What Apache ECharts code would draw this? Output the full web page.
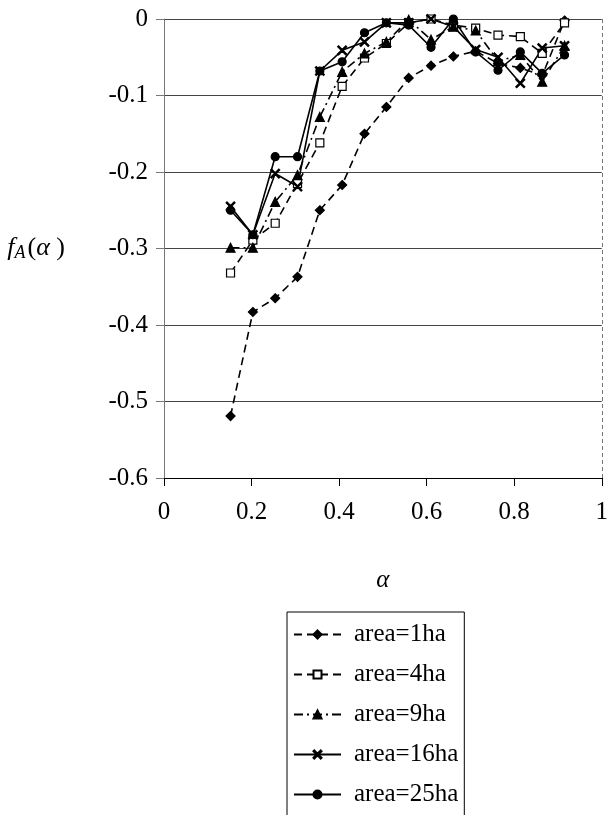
<!DOCTYPE html>
<html>
<head>
<meta charset="utf-8">
<script src="https://cdn.jsdelivr.net/npm/echarts@6/dist/echarts.min.js"></script>
<style>
html, body { margin: 0; padding: 0; background: #fff; }
#chart { width: 611px; height: 815px; }
</style>
</head>
<body>
<div id="chart"></div>
<script>
// alpha values (x)
var alphas = [0.152, 0.203, 0.254, 0.305, 0.356, 0.407, 0.458, 0.508, 0.559, 0.610, 0.661, 0.712, 0.763, 0.814, 0.864, 0.915];

// f_A(alpha) for each area
var area1 = [-0.519, -0.383, -0.365, -0.337, -0.250, -0.217, -0.150, -0.115, -0.077, -0.061, -0.049, -0.042, -0.058, -0.064, -0.074, -0.002];
var area4 = [-0.332, -0.289, -0.267, -0.215, -0.162, -0.088, -0.051, -0.032, -0.005, 0, -0.008, -0.012, -0.021, -0.023, -0.045, -0.005];
var area9 = [-0.299, -0.299, -0.239, -0.204, -0.128, -0.069, -0.045, -0.030, -0.001, -0.027, -0.010, -0.015, -0.055, -0.047, -0.082, -0.035];
var area16 = [-0.245, -0.282, -0.202, -0.219, -0.068, -0.041, -0.030, -0.005, -0.005, 0, -0.010, -0.040, -0.050, -0.084, -0.038, -0.035];
var area25 = [-0.250, -0.282, -0.180, -0.180, -0.068, -0.056, -0.018, -0.005, -0.008, -0.037, 0, -0.043, -0.067, -0.043, -0.071, -0.047];

var seriesNames = ['area=1ha', 'area=4ha', 'area=9ha', 'area=16ha', 'area=25ha'];

var serif = '"Liberation Serif", "DejaVu Serif", serif';
var xMark = 'path://M0,1L1,0L5,4L9,0L10,1L6,5L10,9L9,10L5,6L1,10L0,9L4,5Z';

function pairs(ys) {
    var out = [];
    for (var i = 0; i < alphas.length; i++) {
        out.push([alphas[i], ys[i]]);
    }
    return out;
}

function makeSeries(name, ys, symbol, size, dash, fill) {
    return {
        name: name,
        type: 'line',
        data: pairs(ys),
        symbol: symbol,
        symbolSize: size,
        showSymbol: true,
        lineStyle: { color: '#000', width: 1.6, type: dash },
        itemStyle: { color: fill, borderColor: '#000', borderWidth: 1.2 },
        emphasis: { disabled: true },
        animation: false
    };
}

var myChart = echarts.init(document.getElementById('chart'));

var s1 = makeSeries(seriesNames[0], area1, 'diamond', 9, [8, 5], '#000');
s1.markLine = {
    silent: true,
    symbol: 'none',
    label: { show: false },
    lineStyle: { color: '#777', type: [4, 3], width: 1 },
    data: [{ xAxis: 1 }]
};

var option = {
    backgroundColor: '#fff',
    animation: false,
    grid: { left: 164, right: 1, top: 19, bottom: 337 },
    xAxis: {
        type: 'value',
        min: 0,
        max: 1,
        interval: 0.2,
        name: 'α',
        nameLocation: 'middle',
        nameGap: 90,
        nameTextStyle: { fontFamily: serif, fontStyle: 'italic', fontSize: 25, color: '#000' },
        axisLine: { onZero: false, lineStyle: { color: '#000', width: 1 } },
        axisTick: { show: true, length: 8, lineStyle: { color: '#000' } },
        axisLabel: {
            fontFamily: serif, fontSize: 25, color: '#000', margin: 22,
            formatter: function (v) { return (v === 0 || v === 1) ? String(v) : v.toFixed(1); }
        },
        splitLine: { show: false }
    },
    yAxis: {
        type: 'value',
        min: -0.6,
        max: 0,
        interval: 0.1,
        name: '{i|f}{s|A}{n|(}{i|α }{n|)}',
        nameLocation: 'middle',
        nameRotate: 0,
        nameGap: 99,
        nameTextStyle: {
            rich: {
                i: { fontFamily: serif, fontStyle: 'italic', fontSize: 26, color: '#000' },
                s: { fontFamily: serif, fontStyle: 'italic', fontSize: 18, color: '#000', padding: [10, 2, 0, 0] },
                n: { fontFamily: serif, fontSize: 26, color: '#000' }
            }
        },
        axisLine: { show: true, lineStyle: { color: '#777', width: 1 } },
        axisTick: { show: true, length: 8, lineStyle: { color: '#777' } },
        axisLabel: {
            fontFamily: serif, fontSize: 25, color: '#000', margin: 16,
            formatter: function (v) { return v === 0 ? '0' : v.toFixed(1); }
        },
        splitLine: { show: true, lineStyle: { color: '#444', width: 1 } }
    },
    legend: {
        orient: 'vertical',
        left: 287,
        top: 612,
        width: 168,
        height: 240,
        padding: [10, 6, 10, 6],
        itemWidth: 47,
        itemHeight: 10,
        itemGap: 15,
        borderColor: '#000',
        borderWidth: 1,
        textStyle: { fontFamily: serif, fontSize: 25, color: '#000', padding: [0, 0, 0, 8] },
        data: seriesNames
    },
    series: [
        s1,
        makeSeries(seriesNames[1], area4, 'rect', 8, [8, 5], '#fff'),
        makeSeries(seriesNames[2], area9, 'triangle', 9, [9, 4, 2, 4], '#000'),
        makeSeries(seriesNames[3], area16, xMark, 9, 'solid', '#000'),
        makeSeries(seriesNames[4], area25, 'circle', 8, 'solid', '#000')
    ]
};
myChart.setOption(option);
</script>
</body>
</html>
